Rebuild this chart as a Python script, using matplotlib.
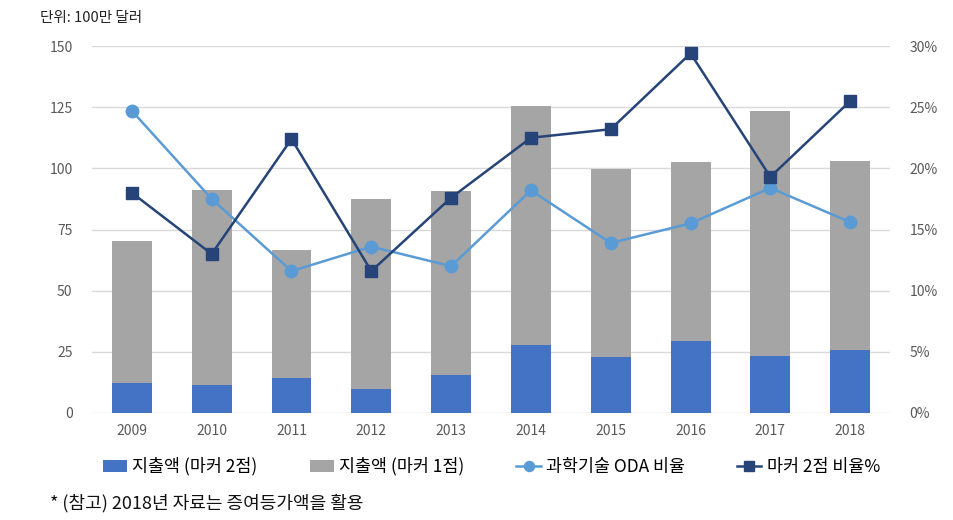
import matplotlib.pyplot as plt
import numpy as np
from matplotlib.ticker import PercentFormatter

plt.rcParams['font.family'] = ['Noto Sans CJK KR', 'DejaVu Sans']

years = ['2009', '2010', '2011', '2012', '2013', '2014', '2015', '2016', '2017', '2018']
marker2 = [12.4, 11.4, 14.4, 9.7, 15.5, 27.8, 23.0, 29.6, 23.4, 25.7]
marker1 = [57.8, 79.7, 52.2, 77.6, 75.2, 97.5, 76.8, 72.8, 100.0, 77.4]
oda_ratio = [24.7, 17.5, 11.6, 13.6, 12.0, 18.2, 13.9, 15.5, 18.4, 15.6]
marker2_ratio = [18.0, 13.0, 22.4, 11.6, 17.6, 22.5, 23.2, 29.4, 19.3, 25.5]

c_blue = '#4472C4'
c_grey = '#A5A5A5'
c_light = '#5B9BD5'
c_navy = '#264478'
c_text = '#595959'

fig = plt.figure(figsize=(9.54, 5.2), dpi=100)
ax = fig.add_axes([0.0964, 0.2058, 0.8366, 0.7057])
x = np.arange(len(years))

ax.bar(x, marker2, width=0.5, color=c_blue, label='지출액 (마커 2점)', zorder=2)
ax.bar(x, marker1, width=0.5, bottom=marker2, color=c_grey, label='지출액 (마커 1점)', zorder=2)
ax.set_ylim(0, 150)
ax.set_yticks([0, 25, 50, 75, 100, 125, 150])
ax.set_xlim(-0.5, len(years) - 0.5)
ax.set_xticks(x)
ax.set_xticklabels(years)
ax.grid(axis='y', color='#D9D9D9', linewidth=1, zorder=0)
ax.set_axisbelow(True)

ax2 = ax.twinx()
ax2.plot(x, oda_ratio, color=c_light, marker='o', markersize=9, linewidth=1.8,
         label='과학기술 ODA 비율', zorder=3)
ax2.plot(x, marker2_ratio, color=c_navy, marker='s', markersize=9, linewidth=1.8,
         label='마커 2점 비율%', zorder=4)
ax2.set_ylim(0, 30)
ax2.set_yticks([0, 5, 10, 15, 20, 25, 30])
ax2.yaxis.set_major_formatter(PercentFormatter(decimals=0))

for a in (ax, ax2):
    for s in a.spines.values():
        s.set_visible(False)
    a.tick_params(length=0, labelsize=10, labelcolor=c_text)
ax.tick_params(axis='y', pad=14)
ax.tick_params(axis='x', pad=8)
ax2.tick_params(axis='y', pad=14)

fig.text(0.042, 0.965, '단위: 100만 달러', fontsize=10.5, color='#222222', va='center')

h1, l1 = ax.get_legend_handles_labels()
h2, l2 = ax2.get_legend_handles_labels()
fig.legend(h1 + h2, l1 + l2, loc='center', bbox_to_anchor=(0.515, 0.103), ncol=4,
           frameon=False, fontsize=12.5, handlelength=1.4, handletextpad=0.3,
           columnspacing=3.0, markerscale=0.8)

fig.text(0.052, 0.033, '* (참고) 2018년 자료는 증여등가액을 활용', fontsize=13,
         color='#111111', va='center')

fig.savefig('out.png', dpi=100)
